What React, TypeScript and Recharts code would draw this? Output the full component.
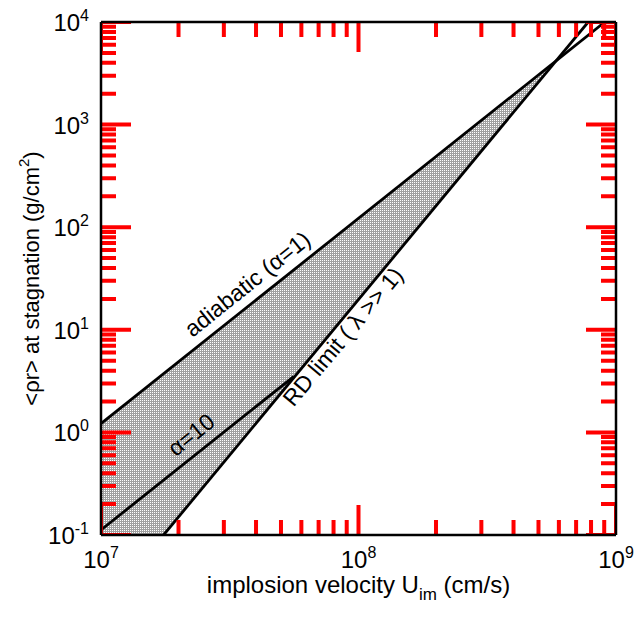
import React from 'react';

import {
  Area,
  ComposedChart,
  Line,
  ReferenceDot,
  ReferenceLine,
  XAxis,
  YAxis,
} from 'recharts';

// values (log-log)
const uAdiabatic = [1e7, 9.05e8];
const rhoAdiabatic = [1.22, 1e4];

const uAlpha10 = [1e7, 5.6e7];
const rhoAlpha10 = [0.112, 3.5];

const uRdLimit = [1.75e7, 7.8e8];
const rhoRdLimit = [0.1, 1e4];

// shaded band between adiabat and the lower bound
const uBand = [1e7, 1.75e7, 5.7e8];
const bandLow = [0.1, 0.1, 3.9e3];
const bandHigh = [1.22, 3.73, 3.9e3];

const xDecades = [1e7, 1e8, 1e9];
const yDecades = [0.1, 1, 10, 100, 1000, 10000];

const notes = [
  { text: 'adiabatic (\u03b1=1)', u: 3.7e7, rho: 28, angle: -38.6 },
  { text: '\u03b1=10', u: 2.24e7, rho: 0.95, angle: -38.6 },
  { text: 'RD limit ( \u03bb >> 1)', u: 8.7e7, rho: 8.6, angle: -50 },
];

const FONT = '"Liberation Sans", Arial, Helvetica, sans-serif';
const W = 634;
const H = 618;
const PLOT = { left: 101, top: 22, right: 616, bottom: 535 };
const X_DEC = (PLOT.right - PLOT.left) / 2;
const Y_DEC = (PLOT.bottom - PLOT.top) / 5;

const zip = (xs: number[], ys: number[]) => xs.map((u, i) => ({ u, rho: ys[i] }));
const bandData = uBand.map((u, i) => ({ u, band: [bandLow[i], bandHigh[i]] }));

const withMinors = (decades: number[]) => {
  const out: number[] = [];
  decades.forEach((d, i) => {
    out.push(d);
    if (i < decades.length - 1) {
      for (let k = 2; k <= 9; k++) out.push(d * k);
    }
  });
  return out;
};
const xTicks = withMinors(xDecades);
const yTicks = withMinors(yDecades);

const isMajor = (v: number) =>
  Math.abs(Math.log10(v) - Math.round(Math.log10(v))) < 1e-6;
const tickLen = (v: number) => (isMajor(v) ? 30 : 15);

const xMarks = (edge: number, dir: number) =>
  xTicks.flatMap((u) => {
    const f = Math.pow(10, (dir * tickLen(u)) / Y_DEC);
    return [{ u, rho: edge }, { u, rho: edge * f }, { u, rho: null }];
  });
const yMarks = (edge: number, dir: number) =>
  yTicks.flatMap((v) => {
    const f = Math.pow(10, (dir * tickLen(v)) / X_DEC);
    return [{ u: edge, rho: v }, { u: edge * f, rho: v }, { u: edge * f, rho: null }];
  });

const Pow = ({ x, y, v, anchor }: any) => (
  <text x={x} y={y} textAnchor={anchor} fontFamily={FONT} fontSize={24} fill="#000">
    10
    <tspan dy={-10} fontSize={16}>
      {Math.round(Math.log10(v))}
    </tspan>
  </text>
);

const XTick = (props: any) => {
  const { payload } = props;
  if (!isMajor(payload.value)) return <g />;
  return <Pow x={Number(props.x)} y={PLOT.bottom + 33} v={payload.value} anchor="middle" />;
};

const YTick = (props: any) => {
  const { payload } = props;
  if (!isMajor(payload.value)) return <g />;
  return <Pow x={PLOT.left - 12} y={Number(props.y) + 9} v={payload.value} anchor="end" />;
};

const XTitle = (props: any) => {
  const vb = props.viewBox;
  return (
    <text x={vb.x + vb.width / 2} y={vb.y + 58} textAnchor="middle" fontFamily={FONT} fontSize={24} fill="#000">
      implosion velocity U
      <tspan dy={7} fontSize={17}>im</tspan>
      <tspan dy={-7}> (cm/s)</tspan>
    </text>
  );
};

const YTitle = (props: any) => {
  const vb = props.viewBox;
  const cx = 31;
  const cy = vb.y + vb.height / 2;
  return (
    <text
      x={cx}
      y={cy}
      transform={`rotate(-90 ${cx} ${cy})`}
      textAnchor="middle"
      dominantBaseline="central"
      fontFamily={FONT}
      fontSize={22}
      fill="#000"
    >
      {'<\u03c1r> at stagnation (g/cm'}
      <tspan dy={-8} fontSize={15}>2</tspan>
      <tspan dy={8}>)</tspan>
    </text>
  );
};

const noteShape = (n: any) => (p: any) => (
  <text
    x={p.cx}
    y={p.cy}
    transform={`rotate(${n.angle} ${p.cx} ${p.cy})`}
    textAnchor="middle"
    dominantBaseline="central"
    fontFamily={FONT}
    fontSize={23}
    fill="#000"
  >
    {n.text}
  </text>
);

export default function App() {
  return (
    <div style={{ position: 'absolute', left: 0, top: 0 }}>
      <svg width={0} height={0} style={{ position: 'absolute' }}>
        <defs>
          <pattern id="stipple" width={2} height={2} patternUnits="userSpaceOnUse">
            <rect width={2} height={2} fill="#a0a0a0" />
            <rect width={1} height={1} fill="#ffffff" />
          </pattern>
        </defs>
      </svg>
      <ComposedChart
        width={W}
        height={H}
        margin={{ top: PLOT.top, right: W - PLOT.right, bottom: H - PLOT.bottom - 60, left: 0 }}
      >
        <XAxis
          dataKey="u"
          type="number"
          scale="log"
          domain={[1e7, 1e9]}
          allowDataOverflow
          ticks={xTicks}
          interval={0}
          tick={<XTick />}
          tickLine={false}
          axisLine={{ stroke: '#000', strokeWidth: 2.5 }}
          height={60}
          label={XTitle}
        />
        <YAxis
          type="number"
          scale="log"
          domain={[0.1, 10000]}
          allowDataOverflow
          ticks={yTicks}
          interval={0}
          tick={<YTick />}
          tickLine={false}
          axisLine={{ stroke: '#000', strokeWidth: 2.5 }}
          width={PLOT.left}
          label={YTitle}
        />
        <Area
          data={bandData}
          dataKey="band"
          type="linear"
          fill="url(#stipple)"
          fillOpacity={1}
          stroke="none"
          isAnimationActive={false}
        />
        <Line data={zip(uAdiabatic, rhoAdiabatic)} dataKey="rho" type="linear" stroke="#000" strokeWidth={2.8} dot={false} isAnimationActive={false} />
        <Line data={zip(uAlpha10, rhoAlpha10)} dataKey="rho" type="linear" stroke="#000" strokeWidth={2.8} dot={false} isAnimationActive={false} />
        <Line data={zip(uRdLimit, rhoRdLimit)} dataKey="rho" type="linear" stroke="#000" strokeWidth={2.8} dot={false} isAnimationActive={false} />
        <Line data={xMarks(0.1, 1)} dataKey="rho" type="linear" stroke="red" strokeWidth={4} dot={false} activeDot={false} isAnimationActive={false} />
        <Line data={xMarks(1e4, -1)} dataKey="rho" type="linear" stroke="red" strokeWidth={4} dot={false} activeDot={false} isAnimationActive={false} />
        <Line data={yMarks(1e7, 1)} dataKey="rho" type="linear" stroke="red" strokeWidth={4} dot={false} activeDot={false} isAnimationActive={false} />
        <Line data={yMarks(1e9, -1)} dataKey="rho" type="linear" stroke="red" strokeWidth={4} dot={false} activeDot={false} isAnimationActive={false} />
        <ReferenceLine y={10000} stroke="#000" strokeWidth={2.5} ifOverflow="visible" />
        <ReferenceLine x={1e9} stroke="#000" strokeWidth={2.5} ifOverflow="visible" />
        {notes.map((n, i) => (
          <ReferenceDot key={i} x={n.u} y={n.rho} r={0} shape={noteShape(n)} />
        ))}
      </ComposedChart>
    </div>
  );
}
